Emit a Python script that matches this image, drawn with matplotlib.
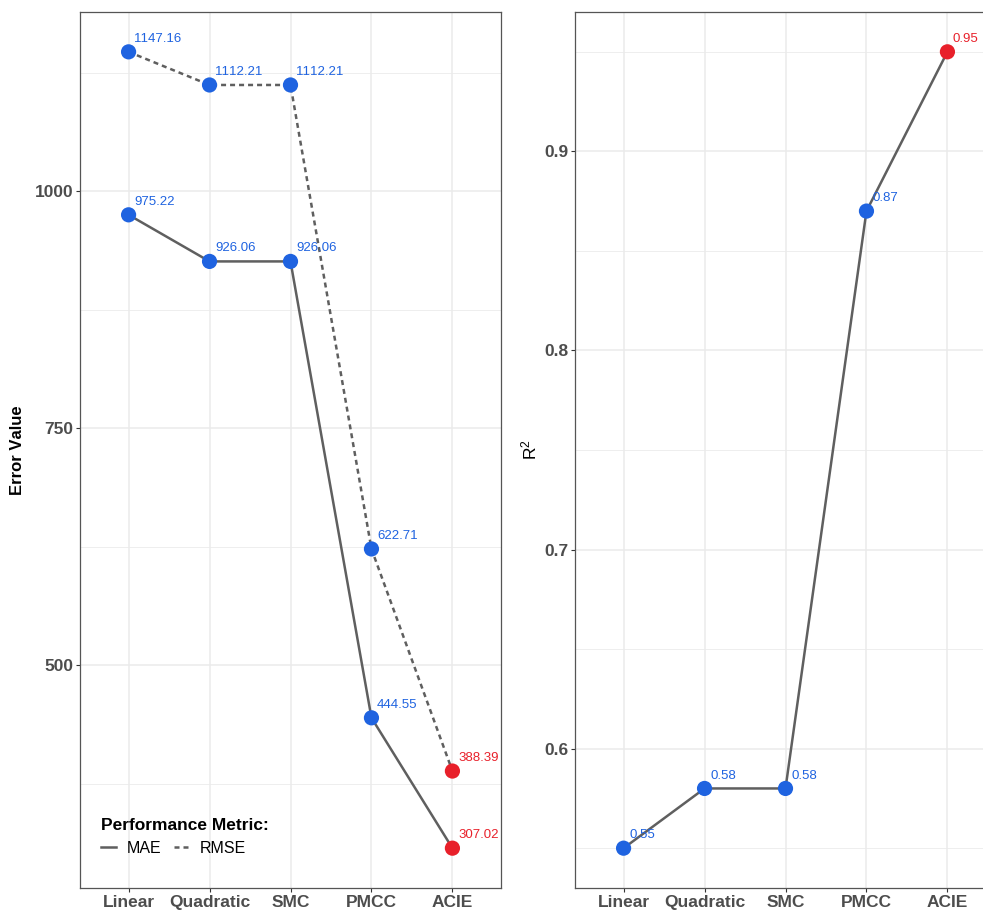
"""
Error metrics and R-squared for the five fitting models.
"""
import matplotlib.pyplot as plt
from matplotlib.lines import Line2D

plt.rcParams["font.family"] = ["Liberation Sans", "DejaVu Sans"]
plt.rcParams["mathtext.default"] = "regular"
# keep the digit pairs ("11") evenly spaced
plt.rcParams["text.kerning_factor"] = 8

models = ["Linear", "Quadratic", "SMC", "PMCC", "ACIE"]
mae = [975.22, 926.06, 926.06, 444.55, 307.02]
rmse = [1147.16, 1112.21, 1112.21, 622.71, 388.39]
r2 = [0.55, 0.58, 0.58, 0.87, 0.95]
best = "ACIE"

error_ticks = [500, 750, 1000]
error_minor = [375, 625, 875, 1125]
r2_ticks = [0.6, 0.7, 0.8, 0.9]
r2_minor = [0.55, 0.65, 0.75, 0.85, 0.95]

BLUE = "#1f63e0"
RED = "#e8202a"
LINE = "#5f5f5f"
GRID = "#ebebeb"
TICK_TEXT = "#4d4d4d"


def point_colour(model: str) -> str:
    return RED if model == best else BLUE


def style_panel(ax, major, minor) -> None:
    """
    A white panel with light grid lines and a thin dark border.
    """
    ax.set_facecolor("white")
    ax.set_xticks(range(1, len(models) + 1))
    ax.set_xticklabels(models)
    ax.set_yticks(major)
    ax.set_yticks(minor, minor=True)
    ax.set_xlim(0.4, len(models) + 0.6)
    ax.grid(True, which="major", color=GRID, linewidth=1.1, zorder=0)
    ax.grid(True, which="minor", axis="y", color=GRID, linewidth=0.6, zorder=0)
    ax.set_axisbelow(True)
    for side in ax.spines.values():
        side.set_color("#555555")
        side.set_linewidth(0.9)
    ax.tick_params(which="major", length=3, width=0.8, color="#333333",
                   labelsize=12.5, labelcolor=TICK_TEXT, pad=2)
    ax.tick_params(which="minor", length=0)
    for label in ax.get_xticklabels() + ax.get_yticklabels():
        label.set_fontweight("bold")


def plot_series(ax, values, fmt: str, dashed: bool = False) -> None:
    xs = list(range(1, len(values) + 1))
    line, = ax.plot(xs, values, color=LINE, linewidth=1.8, zorder=2)
    if dashed:
        line.set_dashes((2.0, 1.6))
    ax.scatter(xs, values, s=120, c=[point_colour(m) for m in models],
               zorder=3, linewidths=0)
    for x, v, m in zip(xs, values, models):
        ax.annotate(fmt.format(v), (x, v), xytext=(4, 5),
                    textcoords="offset points", ha="left", va="bottom",
                    fontsize=9.5, color=point_colour(m), zorder=4)


fig = plt.figure(figsize=(9.83, 9.11), dpi=100)

# left panel: MAE and RMSE
ax1 = fig.add_axes([80 / 983, 23 / 911, 421 / 983, 876 / 911])
style_panel(ax1, error_ticks, error_minor)
plot_series(ax1, mae, "{:.2f}")
plot_series(ax1, rmse, "{:.2f}", dashed=True)
ax1.set_ylim(265.0, 1189.2)
ax1.set_ylabel("Error Value", fontsize=12, fontweight="bold", labelpad=7)

handles = [
    Line2D([], [], color=LINE, linewidth=1.8),
    Line2D([], [], color=LINE, linewidth=1.8, dashes=(2.0, 1.6)),
]
legend = ax1.legend(handles, ["MAE", "RMSE"], loc="lower left",
                    bbox_to_anchor=(0.028, 0.026), ncol=2, frameon=False,
                    title="Performance Metric:", alignment="left",
                    fontsize=11.5, handlelength=0.9, handletextpad=0.7,
                    columnspacing=0.8, borderaxespad=0.2)
legend.get_title().set_fontweight("bold")
legend.get_title().set_fontsize(12.5)

# right panel: R squared
ax2 = fig.add_axes([575 / 983, 23 / 911, 421 / 983, 876 / 911])
style_panel(ax2, r2_ticks, r2_minor)
plot_series(ax2, r2, "{:.2f}")
ax2.set_ylim(0.53, 0.97)
ax2.set_yticklabels([f"{t:.1f}" for t in r2_ticks])
for label in ax2.get_yticklabels():
    label.set_fontweight("bold")
ax2.set_ylabel("R$^{2}$", fontsize=12.5, labelpad=3)

fig.savefig("out.png", dpi=100, facecolor="white")
